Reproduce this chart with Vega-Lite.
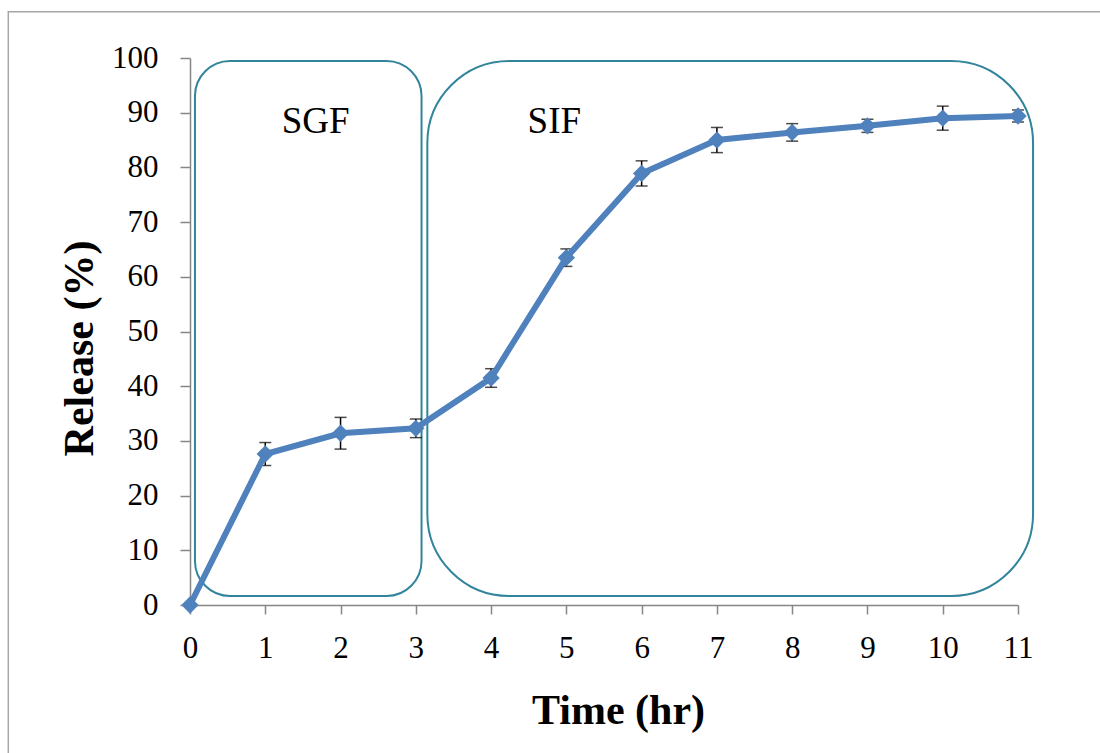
{
  "$schema": "https://vega.github.io/schema/vega-lite/v6.json",
  "width": 828,
  "height": 547,
  "autosize": {"type": "none"},
  "padding": {"left": 190, "top": 58, "right": 82, "bottom": 148},
  "background": "white",
  "config": {"view": {"stroke": null}, "font": "Liberation Serif"},
  "datasets": {
    "release": [
      {"time": 0, "release": 0, "sd": 0},
      {"time": 1, "release": 27.6, "sd": 2.1},
      {"time": 2, "release": 31.4, "sd": 2.9},
      {"time": 3, "release": 32.3, "sd": 1.7},
      {"time": 4, "release": 41.5, "sd": 1.7},
      {"time": 5, "release": 63.5, "sd": 1.6},
      {"time": 6, "release": 78.9, "sd": 2.3},
      {"time": 7, "release": 85.0, "sd": 2.3},
      {"time": 8, "release": 86.4, "sd": 1.6},
      {"time": 9, "release": 87.6, "sd": 1.2},
      {"time": 10, "release": 89.0, "sd": 2.2},
      {"time": 11, "release": 89.4, "sd": 1.1}
    ],
    "phases": [
      {"phase": "SGF", "x1": 0.066, "x2": 3.076, "y1": 1.65, "y2": 99.45, "lx": 1.67, "ly": 86.3},
      {"phase": "SIF", "x1": 3.153, "x2": 11.2, "y1": 1.65, "y2": 99.45, "lx": 4.84, "ly": 86.3}
    ],
    "frame": [
      {"x1": -2.414, "x2": 12.3, "y1": -32, "y2": 108.45}
    ]
  },
  "layer": [
    {
      "data": {"name": "frame"},
      "mark": {"type": "rect", "fill": null, "stroke": "#A6A6A6", "strokeWidth": 1.5, "clip": false},
      "encoding": {
        "x": {"field": "x1", "type": "quantitative", "title": "Time (hr)", "scale": {"domain": [0, 11], "nice": false, "zero": false},
          "axis": {
            "values": [0, 1, 2, 3, 4, 5, 6, 7, 8, 9, 10, 11],
            "format": "d",
            "grid": false,
            "tickSize": 9, "tickColor": "#868686", "tickWidth": 1.5,
            "domainColor": "#868686", "domainWidth": 1.5,
            "labelFont": "Liberation Serif", "labelFontSize": 31, "labelColor": "black",
            "labelBaseline": "alphabetic", "labelPadding": 43, "labelFlush": false, "labelOverlap": false,
            "title": "Time (hr)", "titleFont": "Liberation Serif", "titleFontSize": 42, "titleFontWeight": "bold",
            "titleColor": "black", "titleX": 428, "titleY": 118, "titleBaseline": "alphabetic", "titleAlign": "center"
          }},
        "x2": {"field": "x2"},
        "y": {"field": "y1", "type": "quantitative", "title": "Release (%)", "scale": {"domain": [0, 100], "nice": false, "zero": false},
          "axis": {
            "values": [0, 10, 20, 30, 40, 50, 60, 70, 80, 90, 100],
            "format": "d",
            "grid": false,
            "tickSize": 10, "tickColor": "#868686", "tickWidth": 1.5,
            "domainColor": "#868686", "domainWidth": 1.5,
            "labelFont": "Liberation Serif", "labelFontSize": 31, "labelColor": "black",
            "labelPadding": 22, "labelFlush": false, "labelOverlap": false,
            "title": "Release (%)", "titleFont": "Liberation Serif", "titleFontSize": 42, "titleFontWeight": "bold",
            "titleColor": "black", "titleX": -98, "titleY": 290, "titleBaseline": "alphabetic", "titleAlign": "center", "titleAngle": 270
          }},
        "y2": {"field": "y2"}
      }
    },
    {
      "data": {"name": "phases"},
      "transform": [{"filter": "datum.phase === 'SGF'"}],
      "mark": {"type": "rect", "fill": null, "stroke": "#31849B", "strokeWidth": 2, "cornerRadius": 35},
      "encoding": {
        "x": {"field": "x1", "type": "quantitative", "title": "Time (hr)", "scale": {"domain": [0, 11], "nice": false, "zero": false}},
        "x2": {"field": "x2"},
        "y": {"field": "y1", "type": "quantitative", "title": "Release (%)", "scale": {"domain": [0, 100], "nice": false, "zero": false}},
        "y2": {"field": "y2"}
      }
    },
    {
      "data": {"name": "phases"},
      "transform": [{"filter": "datum.phase === 'SIF'"}],
      "mark": {"type": "rect", "fill": null, "stroke": "#31849B", "strokeWidth": 2, "cornerRadius": 82},
      "encoding": {
        "x": {"field": "x1", "type": "quantitative", "title": "Time (hr)", "scale": {"domain": [0, 11], "nice": false, "zero": false}},
        "x2": {"field": "x2"},
        "y": {"field": "y1", "type": "quantitative", "title": "Release (%)", "scale": {"domain": [0, 100], "nice": false, "zero": false}},
        "y2": {"field": "y2"}
      }
    },
    {
      "data": {"name": "phases"},
      "mark": {"type": "text", "font": "Liberation Serif", "fontSize": 37, "color": "black", "align": "center", "baseline": "alphabetic"},
      "encoding": {
        "x": {"field": "lx", "type": "quantitative", "title": "Time (hr)", "scale": {"domain": [0, 11], "nice": false, "zero": false}},
        "y": {"field": "ly", "type": "quantitative", "title": "Release (%)", "scale": {"domain": [0, 100], "nice": false, "zero": false}},
        "text": {"field": "phase"}
      }
    },
    {
      "data": {"name": "release"},
      "mark": {"type": "errorbar", "ticks": {"size": 12, "thickness": 1.5, "color": "black"}, "rule": {"strokeWidth": 1.5, "color": "black"}},
      "encoding": {
        "x": {"field": "time", "type": "quantitative", "title": "Time (hr)", "scale": {"domain": [0, 11], "nice": false, "zero": false}},
        "y": {"field": "release", "type": "quantitative", "title": "Release (%)", "scale": {"domain": [0, 100], "nice": false, "zero": false}},
        "yError": {"field": "sd"}
      }
    },
    {
      "data": {"name": "release"},
      "mark": {"type": "line", "color": "#4F81BD", "strokeWidth": 6, "point": {"shape": "diamond", "size": 300, "filled": true, "color": "#4F81BD", "opacity": 1}},
      "encoding": {
        "x": {"field": "time", "type": "quantitative", "title": "Time (hr)", "scale": {"domain": [0, 11], "nice": false, "zero": false}},
        "y": {"field": "release", "type": "quantitative", "title": "Release (%)", "scale": {"domain": [0, 100], "nice": false, "zero": false}}
      }
    }
  ]
}
